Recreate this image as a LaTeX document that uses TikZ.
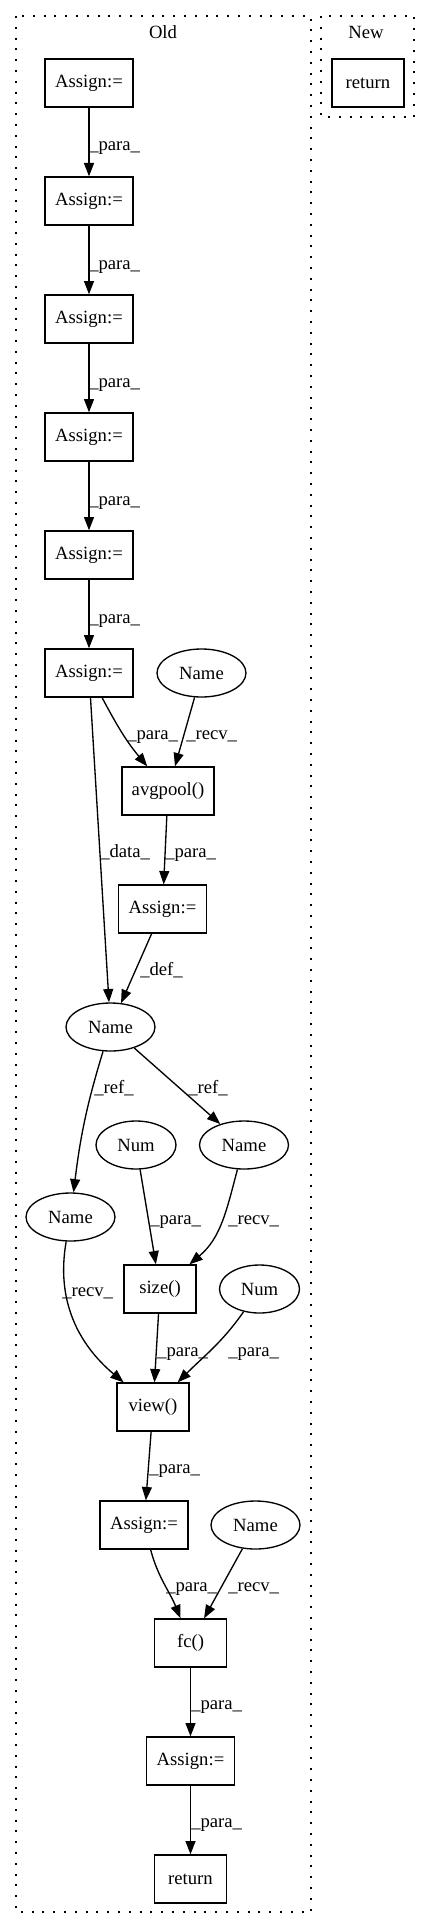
\documentclass[tikz,border=0pt]{standalone}
\usepackage{fontspec}
\setmainfont{Liberation Serif}
\usetikzlibrary{arrows.meta,shapes.geometric}
\begin{document}
\begin{tikzpicture}[x=0.75pt,y=-0.75pt,
  every node/.style={font=\fontsize{14pt}{16pt}\selectfont},
  box/.style={draw,line width=1pt,rectangle,inner sep=0pt,minimum height=36pt,minimum width=66pt},
  ell/.style={draw,line width=1pt,ellipse,inner sep=0pt,minimum height=36pt,minimum width=66.75pt},
  numell/.style={ell,minimum width=60pt},
  edge/.style={line width=1pt,-{Triangle[length=10pt,width=7.5pt]}},
  lab/.style={anchor=base west,inner sep=0pt},
  cluster/.style={line width=1pt,dash pattern=on 1.5pt off 6.6pt}]
\useasboundingbox (0,0) rectangle (431,1930);
% clusters
\draw[cluster] (16,16) rectangle (311,1912);
\draw[cluster] (321,16) rectangle (414,117);
\node[anchor=base,inner sep=0pt] (oldlbl) at (163,39) {Old};
\node[anchor=base,inner sep=0pt] (newlbl) at (366,39) {New};
% New
\node[box,minimum width=54pt] (newret) at (368,83) {return};
% Old nodes
\node[box] (a1) at (89,83) {Assign:=};
\node[box] (a2) at (89,201) {Assign:=};
\node[box] (a3) at (89,319) {Assign:=};
\node[box] (a4) at (89,437) {Assign:=};
\node[box] (a5) at (89,555) {Assign:=};
\node[box] (a6) at (89,673) {Assign:=};
\node[ell] (n1) at (201.5,673) {Name};
\node[box,minimum width=69pt] (avg) at (168,791) {avgpool()};
\node[box] (a7) at (162.5,909) {Assign:=};
\node[ell] (nm) at (110.5,1027) {Name};
\node[numell] (num1) at (136,1145) {Num};
\node[ell] (nr) at (244,1145) {Name};
\node[ell] (nl) at (70.5,1217) {Name};
\node[box,minimum width=54pt] (size) at (160,1289) {size()};
\node[numell] (num2) at (259.5,1289) {Num};
\node[box,minimum width=54pt] (view) at (153,1407) {view()};
\node[box] (a8) at (144,1525) {Assign:=};
\node[ell] (n2) at (255.5,1525) {Name};
\node[box,minimum width=54pt] (fc) at (190.5,1643) {fc()};
\node[box] (a9) at (190.5,1761) {Assign:=};
\node[box,minimum width=54pt] (ret) at (190.5,1879) {return};
% edges
\draw[edge] (a1) -- (a2);
\draw[edge] (a2) -- (a3);
\draw[edge] (a3) -- (a4);
\draw[edge] (a4) -- (a5);
\draw[edge] (a5) -- (a6);
\draw[edge] (a6) to[out=-62,in=130] (avg);
\draw[edge] (n1) -- (avg);
\draw[edge] (a6) -- (nm);
\draw[edge] (avg) -- (a7);
\draw[edge] (a7) -- (nm);
\draw[edge] (nm) to[out=-107,in=83] (nl);
\draw[edge] (nm) -- (nr);
\draw[edge] (num1) -- (size);
\draw[edge] (nr) to[out=-105,in=40] (size);
\draw[edge] (nl) to[out=-100,in=140] (view);
\draw[edge] (size) -- (view);
\draw[edge] (num2) to[out=-125,in=45] (view);
\draw[edge] (view) -- (a8);
\draw[edge] (a8) to[out=-75,in=112] (fc);
\draw[edge] (n2) -- (fc);
\draw[edge] (fc) -- (a9);
\draw[edge] (a9) -- (ret);
% labels
\node[lab] (l1) at (89,151) {\_para\_};
\node[lab] (l2) at (89,269) {\_para\_};
\node[lab] (l3) at (89,387) {\_para\_};
\node[lab] (l4) at (89,505) {\_para\_};
\node[lab] (l5) at (89,623) {\_para\_};
\node[lab] (l6) at (127,739) {\_para\_};
\node[lab] (l7) at (186,739) {\_recv\_};
\node[lab] (l8) at (100,857) {\_data\_};
\node[lab] (l9) at (165,857) {\_para\_};
\node[lab] (l10) at (140,975) {\_def\_};
\node[lab] (l11) at (94,1093) {\_ref\_};
\node[lab] (l12) at (188,1093) {\_ref\_};
\node[lab] (l13) at (150,1224) {\_para\_};
\node[lab] (l14) at (228,1224) {\_recv\_};
\node[lab] (l15) at (62,1296) {\_recv\_};
\node[lab] (l16) at (157,1356) {\_para\_};
\node[lab] (l17) at (228,1356) {\_para\_};
\node[lab] (l18) at (149,1473) {\_para\_};
\node[lab] (l19) at (166,1591) {\_para\_};
\node[lab] (l20) at (228,1591) {\_recv\_};
\node[lab] (l21) at (191,1709) {\_para\_};
\node[lab] (l22) at (191,1827) {\_para\_};
\end{tikzpicture}
\end{document}
